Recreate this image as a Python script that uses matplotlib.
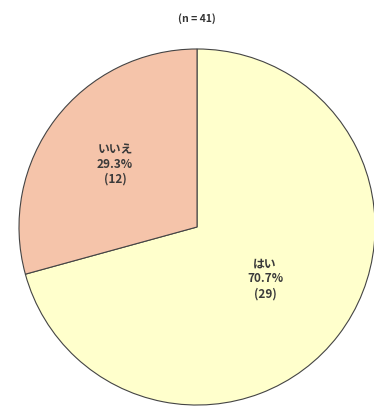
import numpy as np
import matplotlib.pyplot as plt

plt.rcParams['font.family'] = ['Noto Sans CJK JP', 'DejaVu Sans']

labels = ['はい', 'いいえ']
counts = [29, 12]
colors = ['#FFFFCC', '#F5C4AA']
label_dist = [0.48, 0.58]

total = sum(counts)

fig = plt.figure(figsize=(3.74, 4.15), dpi=100)
ax = fig.add_axes([0.0508, 0.024, 0.952, 0.858])

wedges, _ = ax.pie(counts, colors=colors, startangle=90, counterclock=False,
                   wedgeprops=dict(edgecolor='#444444', linewidth=0.8))
ax.set_aspect('equal')
ax.set_xlim(-1.0, 1.0)
ax.set_ylim(-1.0, 1.0)

for w, lab, c, d in zip(wedges, labels, counts, label_dist):
    mid = np.deg2rad((w.theta1 + w.theta2) / 2)
    pct = c / total * 100
    ax.text(d * np.cos(mid), d * np.sin(mid), f'{lab}\n{pct:.1f}%\n({c})',
            ha='center', va='center', fontsize=8.5, fontweight='bold',
            color='#3a3a3a', linespacing=1.2)

fig.text(0.527, 0.955, '(n = 41)', ha='center', va='center', fontsize=7.5,
         fontweight='bold', color='#333333')

fig.savefig('out.png', dpi=100)
